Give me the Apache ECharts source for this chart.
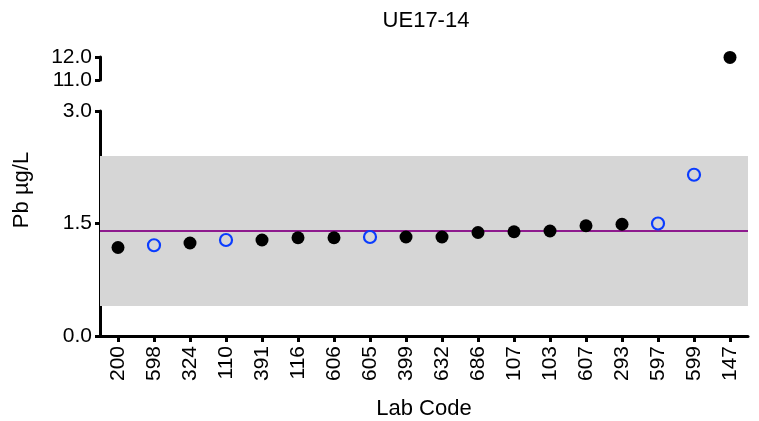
<!DOCTYPE html>
<html>
<head>
<meta charset="utf-8">
<script src="https://cdn.jsdelivr.net/npm/echarts@6/dist/echarts.min.js"></script>
<style>
  html, body { margin: 0; padding: 0; background: #fff; }
  #chart { width: 759px; height: 421px; }
</style>
</head>
<body>
<div id="chart"></div>
<script>
var labCodes = ["200", "598", "324", "110", "391", "116", "606", "605", "399", "632", "686", "107", "103", "607", "293", "597", "599", "147"];
var pbValues = [1.18, 1.21, 1.24, 1.28, 1.28, 1.31, 1.31, 1.32, 1.32, 1.32, 1.38, 1.39, 1.40, 1.47, 1.49, 1.50, 2.15, 11.98];
var openMarker = [false, true, false, true, false, false, false, true, false, false, false, false, false, false, false, true, true, false];
var assignedValue = 1.40;
var bandLow = 0.4;
var bandHigh = 2.4;
var lowerTicks = [0, 3];
var upperTicks = [11, 12];

var font = "Liberation Sans, Arial, sans-serif";

function pick(open, lo, hi) {
  return pbValues.map(function (v, i) {
    if (openMarker[i] !== open) return null;
    return (v >= lo && v <= hi) ? v : null;
  });
}

var chart = echarts.init(document.getElementById("chart"));

var axisLine = { show: true, lineStyle: { color: "#000", width: 3 } };
var axisTick = { show: true, length: 5, lineStyle: { color: "#000", width: 3 } };
var yLabel = { color: "#000", fontSize: 21, fontFamily: font, margin: 8, formatter: function (v) { return v.toFixed(1); } };

chart.setOption({
  animation: false,
  title: {
    text: "UE17-14",
    left: 421, top: 5, textAlign: "center",
    textStyle: { color: "#000", fontSize: 22, fontWeight: "normal", fontFamily: font }
  },
  graphic: [{
    type: "text",
    x: 22, y: 190,
    rotation: Math.PI / 2,
    style: { text: "Pb µg/L", fill: "#000", fontSize: 22, fontFamily: font, textAlign: "center", textVerticalAlign: "middle" }
  }],
  grid: [
    { left: 100, right: 11, top: 57, height: 23, outerBoundsMode: "none", containLabel: false },
    { left: 100, right: 11, top: 111, height: 225, outerBoundsMode: "none", containLabel: false }
  ],
  xAxis: [
    { type: "category", gridIndex: 0, data: labCodes, show: false },
    {
      type: "category", gridIndex: 1, data: labCodes,
      axisLine: axisLine,
      axisTick: { show: true, length: 6, alignWithLabel: true, lineStyle: { color: "#000", width: 3 } },
      axisLabel: { rotate: 90, color: "#000", fontSize: 21, fontFamily: font, margin: 10 },
      name: "Lab Code", nameLocation: "middle", nameGap: 62,
      nameTextStyle: { color: "#000", fontSize: 22, fontFamily: font }
    }
  ],
  yAxis: [
    {
      type: "value", gridIndex: 0, min: upperTicks[0], max: upperTicks[1], interval: 1,
      axisLine: axisLine, axisTick: axisTick, axisLabel: yLabel, splitLine: { show: false }
    },
    {
      type: "value", gridIndex: 1, min: lowerTicks[0], max: lowerTicks[1], interval: 1.5,
      axisLine: axisLine, axisTick: axisTick, axisLabel: yLabel, splitLine: { show: false }
    }
  ],
  series: [
    {
      type: "scatter", xAxisIndex: 1, yAxisIndex: 1, data: pick(false, 0, 3),
      symbolSize: 13, itemStyle: { color: "#000", opacity: 1 }, z: 5,
      markArea: {
        silent: true, z: 1,
        itemStyle: { color: "#d6d6d6" },
        data: [[{ yAxis: bandLow }, { yAxis: bandHigh }]]
      },
      markLine: {
        silent: true, symbol: "none", z: 2,
        label: { show: false },
        lineStyle: { color: "#8e1a8e", width: 2, type: "solid" },
        data: [{ yAxis: assignedValue }]
      }
    },
    {
      type: "scatter", xAxisIndex: 1, yAxisIndex: 1, data: pick(true, 0, 3),
      symbolSize: 12, z: 5,
      itemStyle: { color: "rgba(0,0,0,0)", borderColor: "#0a3cff", borderWidth: 2.2, opacity: 1 }
    },
    {
      type: "scatter", xAxisIndex: 0, yAxisIndex: 0, data: pick(false, 11, 12),
      symbolSize: 13, itemStyle: { color: "#000", opacity: 1 }, clip: false
    },
    {
      type: "scatter", xAxisIndex: 0, yAxisIndex: 0, data: pick(true, 11, 12),
      symbolSize: 12, clip: false,
      itemStyle: { color: "rgba(0,0,0,0)", borderColor: "#0a3cff", borderWidth: 2.2, opacity: 1 }
    }
  ]
});
</script>
</body>
</html>
